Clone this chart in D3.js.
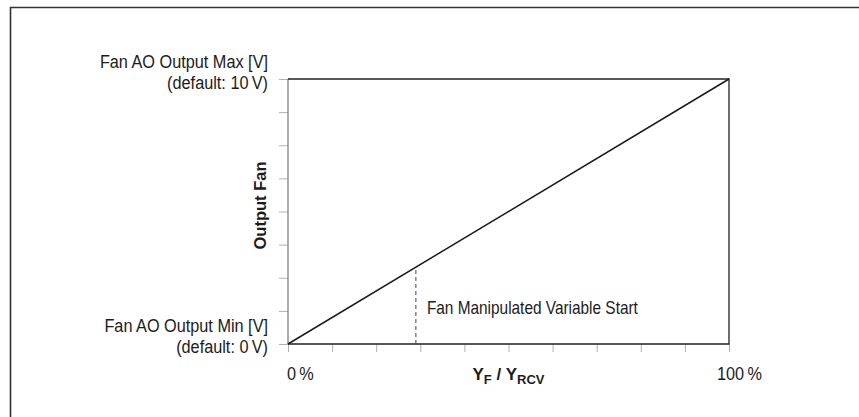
<!DOCTYPE html>
<html>
<head>
<meta charset="utf-8">
<script src="https://cdn.jsdelivr.net/npm/d3@7"></script>
<style>
  body { margin: 0; background: #fff; }
  svg { display: block; font-family: "Liberation Sans", Arial, sans-serif; }
  .tick line { stroke: #b0b0b0; }
  .lbl { fill: #1c1c1c; font-size: 18.5px; }
</style>
</head>
<body>
<script>
// values
var percentTicks = [0, 10, 20, 30, 40, 50, 60, 70, 80, 90, 100];
var voltTicks = [0, 1.25, 2.5, 3.75, 5, 6.25, 7.5, 8.75, 10];
var curveX = [0, 100];      // Y_F / Y_RCV in %
var curveY = [0, 10];       // fan output in V
var startX = 29;            // fan manipulated variable start
var startY = 2.9;
var maxLabel = ["Fan AO Output Max [V]", "(default: 10\u2009V)"];
var minLabel = ["Fan AO Output Min [V]", "(default: 0\u2009V)"];
var xEndLabels = ["0\u2009%", "100\u2009%"];

var width = 859, height = 417;
var margin = {left: 288, right: 130, top: 79, bottom: 73};
var squeeze = 0.88;   // the original uses a narrow sans

var x = d3.scaleLinear().domain([0, 100]).range([margin.left, width - margin.right]);
var y = d3.scaleLinear().domain([0, 10]).range([height - margin.bottom, margin.top]);

var svg = d3.select("body").append("svg")
    .attr("width", width).attr("height", height);

function narrowText(px, py, anchor) {
  return svg.append("text").attr("class", "lbl")
      .attr("text-anchor", anchor || "start")
      .attr("transform", "translate(" + px + "," + py + ") scale(" + squeeze + ",1)");
}

// outer frame (only top and left edges show)
svg.append("path")
    .attr("d", "M10.5," + height + " V7.5 H" + width)
    .attr("fill", "none").attr("stroke", "#333").attr("stroke-width", 1.6);

var xAxis = d3.axisBottom(x).tickValues(percentTicks).tickSize(8).tickFormat("");
var yAxis = d3.axisLeft(y).tickValues(voltTicks).tickSize(9).tickFormat("");

var gx = svg.append("g").attr("transform", "translate(0," + y(0) + ")").call(xAxis);
var gy = svg.append("g").attr("transform", "translate(" + x(0) + ",0)").call(yAxis);
gx.select(".domain").remove();
gy.select(".domain").remove();
gx.selectAll(".tick line").filter(function(d){ return d === 0 || d === 100; }).attr("stroke", "#222");
gy.selectAll(".tick line").filter(function(d){ return d === 0 || d === 10; }).attr("stroke", "#222");

// plot frame
svg.append("line").attr("x1", x(0)).attr("x2", x(0)).attr("y1", y(0)).attr("y2", y(10))
    .attr("stroke", "#777").attr("stroke-width", 1.2);
svg.append("path")
    .attr("d", "M" + x(0) + "," + y(10) + " H" + x(100) + " V" + y(0) + " H" + x(0))
    .attr("fill", "none").attr("stroke", "#222").attr("stroke-width", 1.3);

// characteristic line
var line = d3.line().x(function(d){ return x(d[0]); }).y(function(d){ return y(d[1]); });
svg.append("path")
    .datum(d3.zip(curveX, curveY))
    .attr("d", line)
    .attr("fill", "none").attr("stroke", "#1a1a1a").attr("stroke-width", 1.5);

// start marker
svg.append("line")
    .attr("x1", x(startX)).attr("x2", x(startX))
    .attr("y1", y(0)).attr("y2", y(startY))
    .attr("stroke", "#444").attr("stroke-width", 1).attr("stroke-dasharray", "4,3");

narrowText(x(startX) + 11, 314).style("font-size", "17.5px")
    .text("Fan Manipulated Variable Start");

// y end labels
narrowText(268, y(10) - 11, "end").text(maxLabel[0]);
narrowText(268, y(10) + 10, "end").text(maxLabel[1]);
narrowText(268, y(0) - 12, "end").text(minLabel[0]);
narrowText(268, y(0) + 9, "end").text(minLabel[1]);

// x end labels
narrowText(x(0) - 1, 380).text(xEndLabels[0]);
narrowText(x(100) - 12, 380).text(xEndLabels[1]);

// axis titles
var xt = svg.append("text").attr("class", "lbl")
    .attr("x", (x(0) + x(100)) / 2).attr("y", 380)
    .attr("text-anchor", "middle")
    .style("font-weight", "bold").style("font-size", "17px");
xt.append("tspan").text("Y");
xt.append("tspan").attr("dy", 4).style("font-size", "13px").text("F");
xt.append("tspan").attr("dy", -4).text(" / Y");
xt.append("tspan").attr("dy", 4).style("font-size", "13px").text("RCV");

svg.append("text").attr("class", "lbl")
    .attr("transform", "translate(266," + ((y(0) + y(10)) / 2 - 6) + ") rotate(-90)")
    .attr("text-anchor", "middle")
    .style("font-weight", "bold").style("font-size", "16.5px")
    .text("Output Fan");
</script>
</body>
</html>
